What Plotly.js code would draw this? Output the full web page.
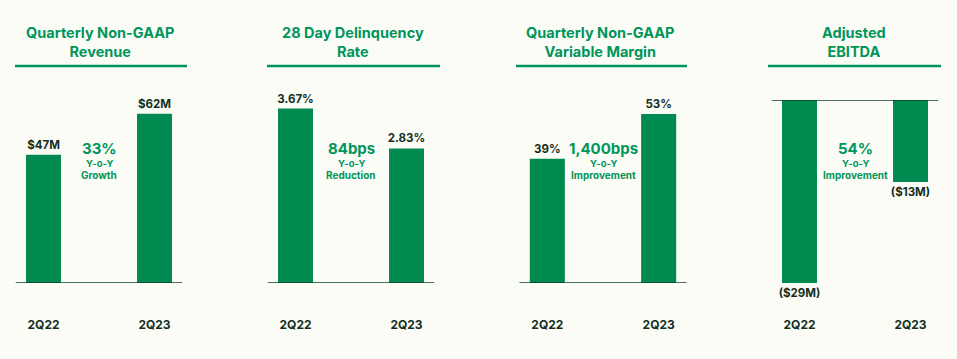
<!DOCTYPE html>
<html>
<head>
<meta charset="utf-8">
<script src="https://cdn.plot.ly/plotly-3.0.1.min.js"></script>
<style>
  html, body { margin: 0; padding: 0; background: #fcfcf7; }
  #chart { width: 957px; height: 359px; }
</style>
</head>
<body>
<div id="chart"></div>
<script>
// ---- data ----
const categories = ['2Q22', '2Q23'];
const revenue = [47, 62];
const revenueLabels = ['$47M', '$62M'];
const delinquency = [3.67, 2.83];
const delinquencyLabels = ['3.67%', '2.83%'];
const variableMargin = [39, 53];
const variableMarginLabels = ['39%', '53%'];
const ebitda = [-29, -13];
const ebitdaLabels = ['($29M)', '($13M)'];
const panelTitles = ['Quarterly Non-GAAP<br>Revenue', '28 Day Delinquency<br>Rate', 'Quarterly Non-GAAP<br>Variable Margin', 'Adjusted<br>EBITDA'];
const changeValues = ['33%', '84bps', '1,400bps', '54%'];
const changeLabel = 'Y-o-Y';
const changeDesc = ['Growth', 'Reduction', 'Improvement', 'Improvement'];

// ---- style ----
const W = 957, H = 359;
const FONT = 'Inter, Lato, "DejaVu Sans", sans-serif';
const BAR = '#008a4f';
const GREEN = '#00955a';
const DARK = '#13301f';
const px = v => v / W;
const py = v => 1 - v / H;

const series = [revenue, delinquency, variableMargin, ebitda];
const seriesLabels = [revenueLabels, delinquencyLabels, variableMarginLabels, ebitdaLabels];
const yRanges = [[0, 67], [0, 3.85], [0, 57.4], [-29, 0]];
const xDomains = [[15.75, 182.25], [267.75, 434.25], [519.5, 686.5], [771.75, 938.25]];
const ruleSpans = [[15, 187], [267, 440], [516, 687], [768, 941]];
const titleCenters = [100, 353, 600, 854];

const data = [];
const layout = {
  width: W, height: H,
  margin: {l: 0, r: 0, t: 0, b: 0},
  paper_bgcolor: '#fcfcf7',
  plot_bgcolor: 'rgba(0,0,0,0)',
  showlegend: false,
  font: {family: FONT, color: DARK},
  shapes: [],
  annotations: []
};

series.forEach((vals, i) => {
  const n = i === 0 ? '' : String(i + 1);
  data.push({
    type: 'bar',
    x: categories,
    y: vals,
    xaxis: 'x' + n,
    yaxis: 'y' + n,
    width: 0.315,
    marker: {color: BAR},
    text: seriesLabels[i],
    textposition: 'outside',
    constraintext: 'none',
    textfont: {family: FONT, size: 11.5, color: DARK, weight: 700},
    cliponaxis: false,
    hoverinfo: 'none'
  });
  layout['xaxis' + n] = {
    domain: [px(xDomains[i][0]), px(xDomains[i][1])],
    anchor: 'y' + n,
    type: 'category',
    range: [-0.25, 1.25],
    showgrid: false, zeroline: false, showline: false,
    ticks: '',
    ticklabelstandoff: 33,
    tickfont: {family: FONT, size: 12, color: DARK, weight: 700},
    fixedrange: true
  };
  layout['yaxis' + n] = {
    domain: [py(283), py(100)],
    anchor: 'x' + n,
    range: yRanges[i],
    visible: false,
    fixedrange: true
  };
  // baseline at zero
  layout.shapes.push({
    type: 'line', xref: 'x' + n + ' domain', yref: 'y' + n,
    x0: 0, x1: 1, y0: 0, y1: 0,
    line: {color: '#0d3f28', width: 1.5}
  });
  // title rule
  layout.shapes.push({
    type: 'line', xref: 'paper', yref: 'paper',
    x0: px(ruleSpans[i][0]), x1: px(ruleSpans[i][1]), y0: py(66), y1: py(66),
    line: {color: GREEN, width: 2.5}
  });
  // title
  layout.annotations.push({
    xref: 'paper', yref: 'paper', x: px(titleCenters[i]), y: py(42),
    xanchor: 'center', yanchor: 'middle', showarrow: false,
    text: panelTitles[i], align: 'center',
    font: {family: FONT, size: 14.5, color: GREEN, weight: 700}
  });
  // change annotations
  const xr = 'x' + n;
  layout.annotations.push({
    xref: xr, yref: 'paper', x: 0.5, y: py(149),
    xanchor: 'center', yanchor: 'middle', showarrow: false,
    text: changeValues[i],
    font: {family: FONT, size: 15, color: GREEN, weight: 700}
  });
  layout.annotations.push({
    xref: xr, yref: 'paper', x: 0.5, y: py(163.5),
    xanchor: 'center', yanchor: 'middle', showarrow: false,
    text: changeLabel,
    font: {family: FONT, size: 9.5, color: GREEN, weight: 700}
  });
  layout.annotations.push({
    xref: xr, yref: 'paper', x: 0.5, y: py(175.5),
    xanchor: 'center', yanchor: 'middle', showarrow: false,
    text: changeDesc[i],
    font: {family: FONT, size: 10, color: GREEN, weight: 700}
  });
});

Plotly.newPlot('chart', data, layout, {staticPlot: true, displayModeBar: false});
</script>
</body>
</html>
